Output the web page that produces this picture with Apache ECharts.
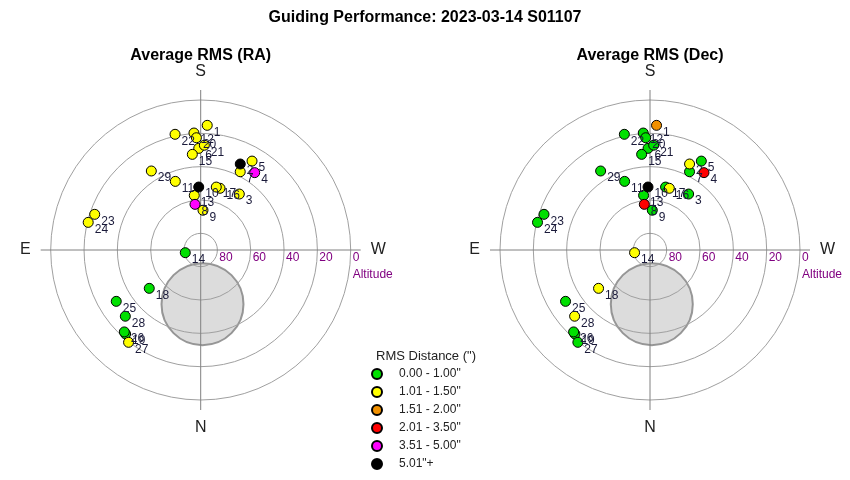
<!DOCTYPE html>
<html>
<head>
<meta charset="utf-8">
<script src="https://cdn.jsdelivr.net/npm/echarts@6/dist/echarts.min.js"></script>
<style>html,body{margin:0;padding:0;background:#fff}#c{width:850px;height:480px}</style>
</head>
<body>
<div id="c"></div>
<script>
// ---- data ----
const pointIds = [1,2,3,4,5,6,7,8,9,10,11,12,13,14,15,16,17,18,19,20,21,22,23,24,25,26,27,28,29];
const altitude = [15.1,33.2,49.2,33.4,28.4,29.0,37.4,62.4,66.1,52.2,46.1,19.7,57.0,80.6,32.4,51.2,51.1,51.5,22.4,22.6,27.1,18.9,22.9,20.5,30.7,22.8,19.7,29.8,34.1];
const azimuth  = [183.0,204.7,214.6,214.9,210.0,178.9,206.8,172.9,183.3,178.2,159.7,176.7,173.3,80.1,175.0,197.4,193.9,53.3,41.8,177.8,182.0,167.5,108.6,103.8,58.7,43.0,38.0,48.7,148.0];
// RMS class index of each point (0..5 -> rmsRanges)
const raClass  = [1,5,1,4,1,1,1,4,1,5,1,1,1,0,1,1,1,0,0,1,1,1,1,1,0,0,1,0,1];
const decClass = [2,1,0,3,0,0,0,3,0,5,0,0,0,1,0,1,0,1,0,0,0,0,0,0,0,0,0,1,0];
const rmsRanges = ['0.00 - 1.00"','1.01 - 1.50"','1.51 - 2.00"','2.01 - 3.50"','3.51 - 5.00"','5.01"+'];
const compassLabels = {0:'N',90:'E',180:'S',270:'W'};
const exclusionAlt = [57.5];
const exclusionAz = [358.1];
const plotTitles = ['Average RMS (RA)','Average RMS (Dec)'];
const mainTitle = 'Guiding Performance: 2023-03-14 S01107';

// ---- styles ----
const rmsColors = ['#00e000','#ffff00','#f09000','#ff0000','#ff00ff','#000000'];
const FONT = 'Liberation Sans, Arial, sans-serif';
const centers = [[200.7,250],[650,250]];

function toAxisAngle(a){ return a > 270 ? a - 360 : a; }

const polar = [], angleAxis = [], radiusAxis = [], series = [];
centers.forEach((c, p) => {
  polar.push({center: c, radius: 150});
  angleAxis.push({
    polarIndex: p, type: 'value', min: -90, max: 270, interval: 90,
    startAngle: 0, clockwise: true, z: 2,
    axisLine: {show: false}, axisTick: {show: false}, splitLine: {show: false},
    axisLabel: {show: true, margin: 20, fontSize: 16, color: '#222', fontFamily: FONT,
      formatter: v => compassLabels[(v + 360) % 360] || ''}
  });
  radiusAxis.push({
    polarIndex: p, type: 'value', min: 0, max: 90, interval: 20, inverse: true, z: 2,
    axisLine: {show: false}, axisTick: {show: false},
    splitLine: {show: true, lineStyle: {color: '#a0a0a0', width: 1}},
    axisLabel: {show: true, interval: 0, margin: -2, align: 'left', verticalAlign: 'top',
      padding: [0,0,0,2], fontSize: 12, color: '#800080', fontFamily: FONT,
      formatter: v => (v >= 90 ? '' : String(v))},
    name: 'Altitude', nameLocation: 'start', nameGap: 2,
    nameTextStyle: {color: '#800080', fontSize: 12, fontFamily: FONT, align: 'left',
      verticalAlign: 'top', padding: [19,0,0,0]}
  });
});
// cross-hair polars (slightly larger radius)
centers.forEach((c, p) => {
  polar.push({center: c, radius: 160});
  angleAxis.push({
    polarIndex: 2 + p, type: 'value', min: 0, max: 360, interval: 90, startAngle: 0, z: 2,
    axisLine: {show: false}, axisTick: {show: false}, axisLabel: {show: false},
    splitLine: {show: true, lineStyle: {color: '#808080', width: 1}}
  });
  radiusAxis.push({polarIndex: 2 + p, type: 'value', min: 0, max: 1, show: false});
});

[raClass, decClass].forEach((cls, p) => {
  series.push({
    type: 'scatter', coordinateSystem: 'polar', polarIndex: p, silent: true, z: 1,
    symbolSize: 82,
    itemStyle: {color: '#d3d3d3', borderColor: '#808080', borderWidth: 2},
    data: exclusionAlt.map((a, i) => [a, toAxisAngle(exclusionAz[i])])
  });
  rmsRanges.forEach((name, k) => {
    const data = [];
    pointIds.forEach((id, i) => {
      if (cls[i] === k) data.push([altitude[i], toAxisAngle(azimuth[i]), id]);
    });
    series.push({
      type: 'scatter', name: name, coordinateSystem: 'polar', polarIndex: p, z: 3,
      symbol: 'circle', symbolSize: 10,
      itemStyle: {color: rmsColors[k], borderColor: '#000', borderWidth: 1, opacity: 1},
      label: {show: true, position: 'right', distance: 1, offset: [0, 7],
        formatter: d => String(d.value[2]), fontSize: 12, color: '#1a1a3a', fontFamily: FONT},
      emphasis: {disabled: true},
      data: data
    });
  });
});

const chart = echarts.init(document.getElementById('c'));
chart.setOption({
  backgroundColor: '#fff',
  animation: false,
  textStyle: {fontFamily: FONT},
  title: [
    {text: mainTitle, left: 425, top: 10, textAlign: 'center', padding: 0,
      textStyle: {fontSize: 16, fontWeight: 'bold', color: '#000', fontFamily: FONT}},
    {text: plotTitles[0], left: centers[0][0], top: 48, textAlign: 'center', padding: 0,
      textStyle: {fontSize: 16, fontWeight: 'bold', color: '#000', fontFamily: FONT}},
    {text: plotTitles[1], left: centers[1][0], top: 48, textAlign: 'center', padding: 0,
      textStyle: {fontSize: 16, fontWeight: 'bold', color: '#000', fontFamily: FONT}},
    {text: 'RMS Distance (")', left: 426, top: 350, textAlign: 'center', padding: 0,
      textStyle: {fontSize: 13, fontWeight: 'normal', color: '#222', fontFamily: FONT}}
  ],
  legend: {
    orient: 'vertical', left: 371, top: 368, padding: 0, height: 120,
    itemWidth: 28, itemHeight: 10, itemGap: 6, icon: 'circle', selectedMode: false,
    textStyle: {fontSize: 12, color: '#222', fontFamily: FONT, padding: [0,0,0,3]},
    data: rmsRanges
  },
  polar: polar,
  angleAxis: angleAxis,
  radiusAxis: radiusAxis,
  series: series
});
</script>
</body>
</html>
